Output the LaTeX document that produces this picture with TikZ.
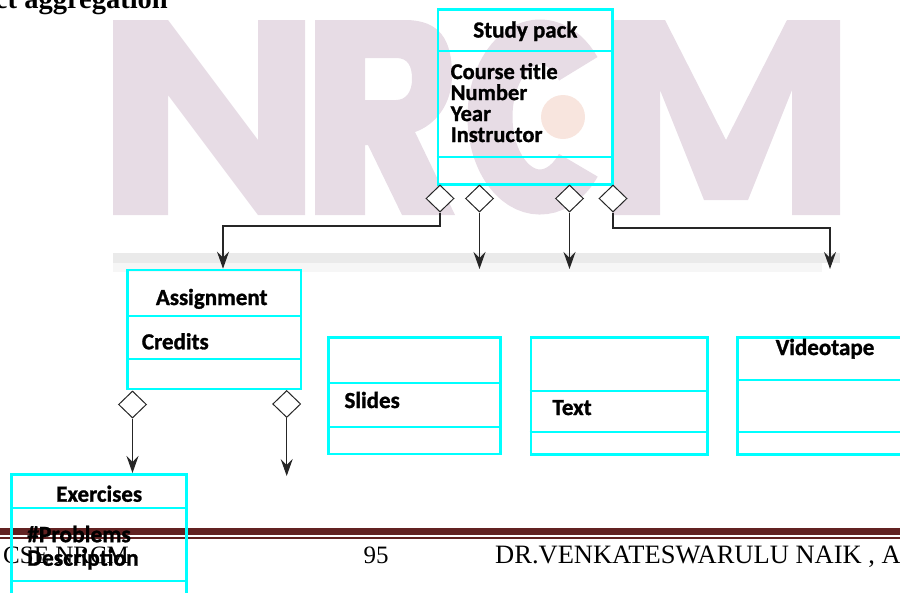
\documentclass[tikz,border=0pt]{standalone}
\usepackage{fontspec}
\setmainfont{Liberation Serif}
\newfontfamily\umlfont[BoldFeatures={FakeBold=1.2}]{Carlito}
\usepackage{tikz}
\usetikzlibrary{arrows.meta, shapes.geometric}
\definecolor{boxcyan}{RGB}{0,255,255}
\definecolor{footred}{RGB}{98,34,34}
\definecolor{wmpink}{RGB}{231,220,229}
\definecolor{wmorange}{RGB}{248,229,222}
\definecolor{bandgray}{RGB}{234,234,234}
\definecolor{bandlight}{RGB}{246,246,246}
\tikzset{
  classbox/.style={draw=boxcyan, line width=2.6pt, inner sep=0pt},
  divider/.style={boxcyan, line width=2pt},
  agg/.style={diamond, draw=black!85, fill=white, line width=1pt, minimum width=28pt, minimum height=27pt, inner sep=0pt},
  link/.style={->, black!85, line width=1.2pt},
  umltext/.style={font=\umlfont\bfseries\fontsize{23}{21}\selectfont, inner sep=0pt},
  attrtext/.style={font=\umlfont\bfseries\fontsize{22.5}{21}\selectfont, inner sep=0pt, align=left, anchor=north west},
  foot/.style={font=\fontsize{25}{25}\selectfont, inner sep=0pt, anchor=base west}
}
\begin{document}
\begin{tikzpicture}[x=1pt, y=-1pt, >={Stealth[length=17pt,width=12pt,inset=6pt]}]
  \useasboundingbox (0,0) rectangle (900,592);
  \clip (0,0) rectangle (900,592);
  \fill[wmpink] (113,215) -- (113,20) -- (168,20) -- (258,140) -- (258,20) -- (305,20) -- (305,215) -- (258,215) -- (168,95) -- (168,215) -- cycle;
  \fill[wmpink, even odd rule] (315,215) -- (315,20) -- (405,20) .. controls (440,20) and (452,40) .. (452,75) .. controls (452,105) and (435,125) .. (415,132) -- (455,215) -- (402,215) -- (368,145) -- (365,145) -- (365,215) -- cycle
    (365,58) -- (396,58) .. controls (408,58) and (412,66) .. (412,79) .. controls (412,92) and (406,100) .. (396,100) -- (365,100) -- cycle;
  \draw[wmpink, line width=45pt] (540,117) ++(40:50 and 75) arc[start angle=40, end angle=320, x radius=50, y radius=75];
  \fill[wmorange] (563,117) circle[radius=22];
  \fill[wmpink] (612,215) -- (612,20) -- (665,20) -- (726,140) -- (787,20) -- (840,20) -- (840,215) -- (792,215) -- (792,90) -- (748,200) -- (704,200) -- (660,90) -- (660,215) -- cycle;
  \fill[bandgray] (113,253) rectangle (840,263);
  \fill[bandlight] (113,263) rectangle (822,272);

  \node[anchor=base east, inner sep=0pt, font=\bfseries\fontsize{28.5}{28.5}\selectfont] (title) at (168,8) {ct aggregation};
  \fill[footred] (0,528) rectangle (900,535);
  \fill[footred] (0,537) rectangle (900,538.6);
  \node[foot] (dept) at (3,563) {CSE NRCM};
  \node[foot, anchor=base] (page) at (376,563) {95};
  \node[foot, font=\fontsize{26.5}{26.5}\selectfont] (author) at (495,563) {DR.VENKATESWARULU NAIK , A};

  \node[classbox, minimum width=174.7pt, minimum height=175pt] (pack) at (525.3,96.8) {};
  \draw[divider] (pack.west |- 0,50.7) -- (pack.east |- 0,50.7);
  \draw[divider] (pack.west |- 0,156.7) -- (pack.east |- 0,156.7);
  \node[umltext, anchor=base] (packname) at (525.3,37.5) {Study pack};
  \node[attrtext] (packattr) at (450.5,63) {Course title\\Number\\Year\\Instructor};

  \node[classbox, minimum width=173.3pt, minimum height=119pt] (assign) at (214.3,329.5) {};
  \draw[divider] (assign.west |- 0,316) -- (assign.east |- 0,316);
  \draw[divider] (assign.west |- 0,359.3) -- (assign.east |- 0,359.3);
  \node[umltext, anchor=base] (assignname) at (211.7,305) {Assignment};
  \node[umltext, anchor=base west] (assignattr) at (141.7,349.3) {Credits};

  \node[classbox, minimum width=175pt, minimum height=146pt] (exer) at (99.2,547.3) {};
  \draw[divider] (exer.west |- 0,508.3) -- (exer.east |- 0,508.3);
  \draw[divider] (exer.west |- 0,581) -- (exer.east |- 0,581);
  \node[umltext, anchor=base] (exername) at (99.2,501.7) {Exercises};
  \node[attrtext, font=\umlfont\bfseries\fontsize{23.5}{23.5}\selectfont] (exerattr) at (27,525.5) {\#Problems\\Description};

  \node[classbox, minimum width=172.4pt, minimum height=116.7pt] (slides) at (414.5,395.7) {};
  \draw[divider] (slides.west |- 0,382.7) -- (slides.east |- 0,382.7);
  \draw[divider] (slides.west |- 0,426.7) -- (slides.east |- 0,426.7);
  \node[umltext, anchor=base west] (slidesattr) at (344.3,408) {Slides};

  \node[classbox, minimum width=176.7pt, minimum height=117pt] (text) at (619.3,395.8) {};
  \draw[divider] (text.west |- 0,391) -- (text.east |- 0,391);
  \draw[divider] (text.west |- 0,431.7) -- (text.east |- 0,431.7);
  \node[umltext, anchor=base west] (textattr) at (552.3,415) {Text};

  \node[classbox, minimum width=175.4pt, minimum height=117pt] (video) at (825,395.8) {};
  \draw[divider] (video.west |- 0,380) -- (video.east |- 0,380);
  \draw[divider] (video.west |- 0,431.7) -- (video.east |- 0,431.7);
  \node[umltext, anchor=base] (videoname) at (825,355) {Videotape};

  \node[agg] (d1) at (440,198.5) {};
  \node[agg] (d2) at (479.5,198.5) {};
  \node[agg] (d3) at (569.5,198.5) {};
  \node[agg] (d4) at (613,198.5) {};
  \coordinate (e2) at (479.5,269);
  \coordinate (e3) at (569.5,269);
  \coordinate (e4) at (830,269);
  \draw[link] (d1.south) -- ++(0,13.5) -| ([xshift=8.7pt]assign.north);
  \draw[link] (d2.south) -- (e2);
  \draw[link] (d3.south) -- (e3);
  \draw[link] (d4.south) -- ++(0,15.5) -| (e4);

  \node[agg] (a1) at (132.5,404.5) {};
  \node[agg] (a2) at (286.7,404) {};
  \coordinate (e6) at (286.7,476);
  \draw[link] (a1.south) -- (a1.south |- exer.north);
  \draw[link] (a2.south) -- (e6);
\end{tikzpicture}
\end{document}
